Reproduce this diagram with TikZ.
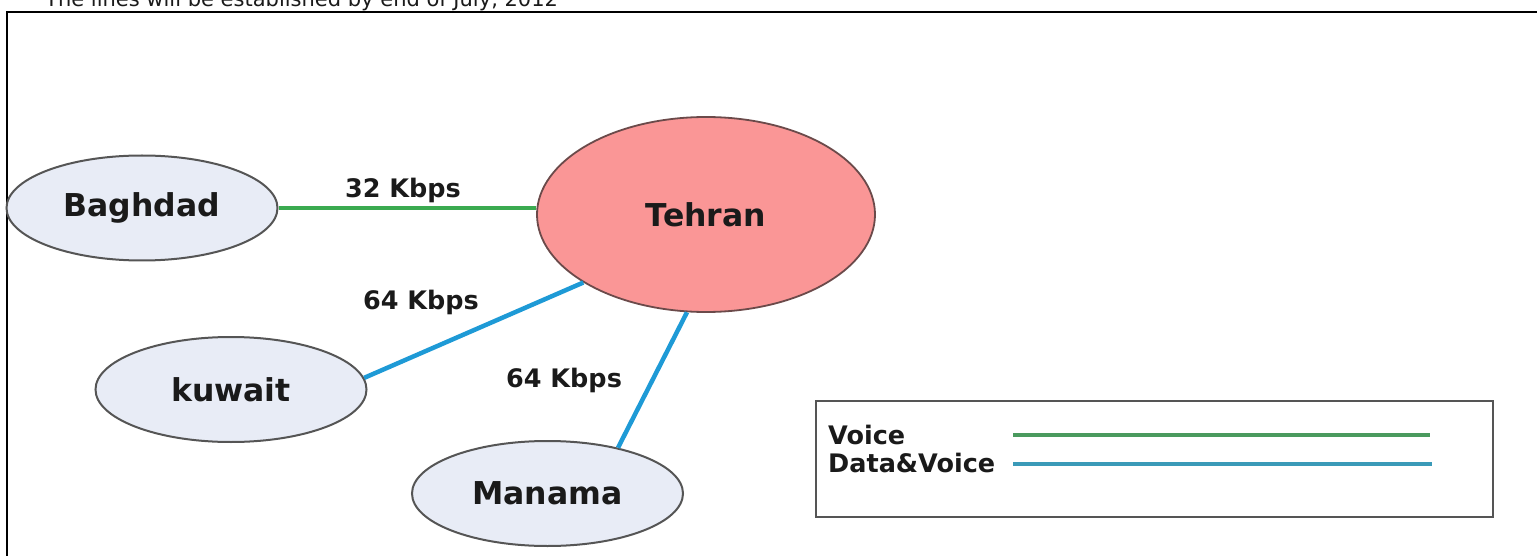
\documentclass[tikz,border=0pt]{standalone}
\usepackage{fontspec}
\setmainfont{DejaVu Sans}
\usetikzlibrary{shapes.geometric}
\definecolor{cityfill}{HTML}{E8ECF6}
\definecolor{citydraw}{HTML}{555555}
\definecolor{hubfill}{HTML}{FA9696}
\definecolor{hubdraw}{HTML}{6B4A4A}
\definecolor{voicegreen}{HTML}{3AAA50}
\definecolor{datablue}{HTML}{1E9AD6}
\definecolor{legendgreen}{HTML}{4A9A5E}
\definecolor{legendblue}{HTML}{3A9AB8}
\definecolor{txt}{HTML}{1A1A1A}
\tikzset{
  city/.style={ellipse, draw=citydraw, fill=cityfill, line width=2pt, inner sep=0pt,
    minimum width=271pt, minimum height=105pt, text=txt,
    font=\fontsize{31.5}{31.5}\selectfont\bfseries},
  hub/.style={ellipse, draw=hubdraw, fill=hubfill, line width=1.8pt, inner sep=0pt,
    minimum width=338pt, minimum height=195pt, text=txt,
    font=\fontsize{31.5}{31.5}\selectfont\bfseries},
  ratelabel/.style={inner sep=0pt, text=txt, font=\fontsize{25.5}{25.5}\selectfont\bfseries},
  legendtext/.style={inner sep=0pt, anchor=west, text=txt, font=\fontsize{25.5}{25.5}\selectfont\bfseries},
  voiceline/.style={draw=voicegreen, line width=3.5pt},
  dataline/.style={draw=datablue, line width=4.5pt},
  frameline/.style={draw=black, line width=2pt},
}
\begin{document}
\begin{tikzpicture}[x=1pt, y=-1pt]
\useasboundingbox (0,0) rectangle (1537,556);
% heading (cut by the top of the page, as in the reference)
\node[anchor=base west, inner sep=0pt, text=txt, font=\fontsize{21}{21}\selectfont] (head) at (45,7)
  {The lines will be established by end of July, 2012};
% outer frame
\draw[frameline] (7,600) -- (7,12) -- (1600,12);
% nodes
\node[hub] (Tehran) at (706,214.5) {Tehran};
\node[city] (Baghdad) at (142,208) {Baghdad};
\node[city] (kuwait) at (231,389.5) {kuwait};
\node[city] (Manama) at (547.5,493.5) {Manama};
% links
\draw[voiceline] (Baghdad.east) -- (Baghdad.east -| Tehran.west);
\draw[dataline] (kuwait.5) -- (Tehran.209);
\draw[dataline] (Manama.33) -- (Tehran.259.5);
% rate labels
\node[ratelabel] (r1) at (403,190) {32 Kbps};
\node[ratelabel] (r2) at (421,302) {64 Kbps};
\node[ratelabel] (r3) at (564,380) {64 Kbps};
% legend
\node[draw=citydraw, line width=2pt, minimum width=677pt, minimum height=116pt, inner sep=0pt, anchor=north west] (legend) at (815,400) {};
\node[legendtext] (lv) at (828,435) {Voice};
\node[legendtext] (ld) at (828,463) {Data\&Voice};
\coordinate (lv1) at (1013,435);
\coordinate (lv2) at (1430,435);
\coordinate (ld1) at (1013,464);
\coordinate (ld2) at (1432,464);
\draw[draw=legendgreen, line width=4pt] (lv1) -- (lv2);
\draw[draw=legendblue, line width=4pt] (ld1) -- (ld2);
\end{tikzpicture}
\end{document}
